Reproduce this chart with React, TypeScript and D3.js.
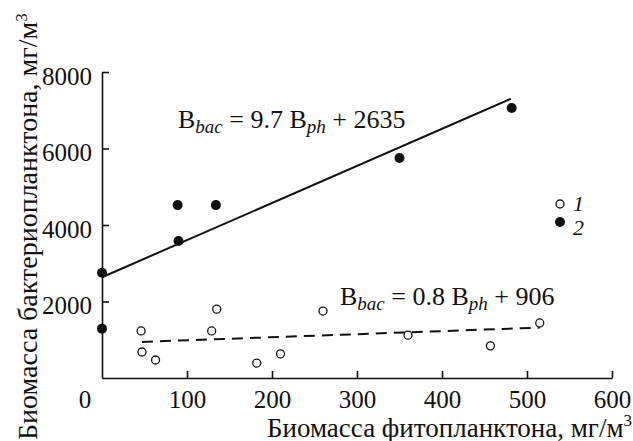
import React, { useEffect, useRef } from "react";
import { select, scaleLinear, axisBottom, axisLeft, line } from "d3";

// open circles (1)
const openX = [46, 47, 63, 129, 135, 182, 210, 260, 360, 457, 515];
const openY = [1230, 680, 470, 1230, 1800, 390, 630, 1750, 1120, 840, 1440];
// filled circles (2)
const fillX = [0, 0, 90, 89, 134, 350, 482];
const fillY = [2750, 1290, 3580, 4520, 4520, 5750, 7060];

const xTicks = [100, 200, 300, 400, 500, 600];
const yTicks = [2000, 4000, 6000, 8000];

// regression lines
const fitSolid = { a: 9.7, b: 2635, from: 0, to: 481 };
const fitDash = { a: 0.8, b: 906, from: 47, to: 515 };

const W = 633, H = 441;
const margin = { top: 72, right: 21, bottom: 63, left: 102 };
const font = "'Liberation Serif', 'Times New Roman', serif";

function App() {
  const ref = useRef<SVGSVGElement>(null);

  useEffect(() => {
    const svg = select(ref.current);
    svg.selectAll("*").remove();
    svg.style("font-family", font);

    const x = scaleLinear().domain([0, 600]).range([margin.left, W - margin.right]);
    const y = scaleLinear().domain([0, 8000]).range([H - margin.bottom, margin.top]);

    const xAxis = axisBottom(x).tickValues(xTicks).tickFormat(d => String(d))
      .tickSizeInner(-7).tickSizeOuter(0).tickPadding(12);
    const gx = svg.append("g")
      .attr("transform", `translate(0,${y(0)})`)
      .call(xAxis);

    const yAxis = axisLeft(y).tickValues(yTicks).tickFormat(d => String(d))
      .tickSizeInner(-7).tickSizeOuter(0).tickPadding(10);
    const gy = svg.append("g")
      .attr("transform", `translate(${x(0)},0)`)
      .call(yAxis);

    [gx, gy].forEach(g => {
      g.attr("font-family", null).attr("font-size", null);
      g.selectAll("path, line").attr("stroke", "#111").attr("stroke-width", 1.6);
      g.selectAll("text")
        .style("font-family", font)
        .style("font-size", "25px")
        .attr("fill", "#111");
    });
    gy.selectAll("text").attr("dy", "0.48em");

    // shared origin label
    svg.append("text")
      .attr("x", x(0) - 17).attr("y", y(0) + 30)
      .attr("text-anchor", "middle")
      .style("font-size", "25px").attr("fill", "#111")
      .text("0");

    const fitLine = (f: typeof fitSolid) =>
      line<number>().x(d => x(d)).y(d => y(f.a * d + f.b))([f.from, f.to]);

    svg.append("path")
      .attr("d", fitLine(fitSolid))
      .attr("fill", "none").attr("stroke", "#111").attr("stroke-width", 2);
    svg.append("path")
      .attr("d", fitLine(fitDash))
      .attr("fill", "none").attr("stroke", "#111").attr("stroke-width", 2)
      .attr("stroke-dasharray", "11,7");

    svg.append("g").selectAll("circle")
      .data(openX)
      .join("circle")
      .attr("cx", d => x(d))
      .attr("cy", (d, i) => y(openY[i]))
      .attr("r", 4)
      .attr("fill", "white").attr("stroke", "#111").attr("stroke-width", 1.3);

    svg.append("g").selectAll("circle")
      .data(fillX)
      .join("circle")
      .attr("cx", d => x(d))
      .attr("cy", (d, i) => y(fillY[i]))
      .attr("r", 5)
      .attr("fill", "#111");

    // equations
    const equation = (px: number, py: number, k: string, c: string) => {
      const t = svg.append("text")
        .attr("x", px).attr("y", py)
        .style("font-size", "26px").attr("fill", "#111");
      t.append("tspan").text("B");
      t.append("tspan").attr("font-style", "italic").style("font-size", "19px").attr("dy", 5).text("bac");
      t.append("tspan").attr("dy", -5).text(` = ${k} B`);
      t.append("tspan").attr("font-style", "italic").style("font-size", "19px").attr("dy", 5).text("ph");
      t.append("tspan").attr("dy", -5).text(` + ${c}`);
    };
    equation(178, 128, "9.7", "2635");
    equation(340, 305, "0.8", "906");

    // legend
    svg.append("circle").attr("cx", 560).attr("cy", 204).attr("r", 4)
      .attr("fill", "white").attr("stroke", "#111").attr("stroke-width", 1.3);
    svg.append("circle").attr("cx", 560).attr("cy", 222).attr("r", 5).attr("fill", "#111");
    svg.append("text").attr("x", 573).attr("y", 211)
      .style("font-size", "22px").attr("font-style", "italic").attr("fill", "#111").text("1");
    svg.append("text").attr("x", 573).attr("y", 235)
      .style("font-size", "22px").attr("font-style", "italic").attr("fill", "#111").text("2");

    // axis titles
    svg.append("text")
      .attr("x", 632).attr("y", 437)
      .attr("text-anchor", "end")
      .style("font-size", "27px").attr("fill", "#111")
      .text("Биомасса фитопланктона, мг/м")
      .append("tspan").style("font-size", "17px").attr("dy", -11).text("3");

    svg.append("text")
      .attr("transform", `translate(37,${H - 1}) rotate(-90)`)
      .attr("x", 0).attr("y", 0)
      .attr("text-anchor", "start")
      .style("font-size", "28px").attr("fill", "#111")
      .text("Биомасса бактериопланктона, мг/м")
      .append("tspan").style("font-size", "17px").attr("dy", -10).text("3");
  }, []);

  return (
    <div style={{ position: "absolute", left: 0, top: 0 }}>
      <svg ref={ref} width={W} height={H} style={{ display: "block", background: "white" }} />
    </div>
  );
}

export default App;
